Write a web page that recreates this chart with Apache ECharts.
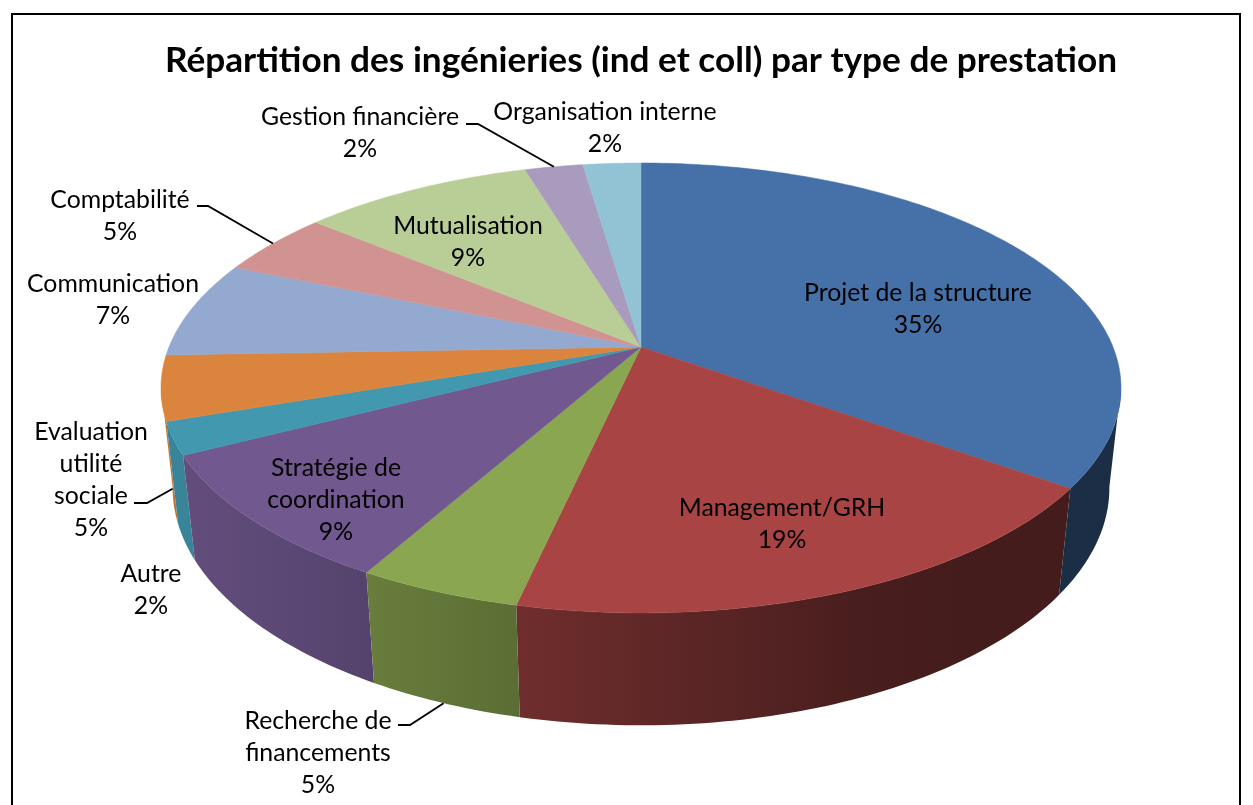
<!DOCTYPE html>
<html>
<head>
<meta charset="utf-8">
<title>Répartition des ingénieries</title>
<script src="https://cdn.jsdelivr.net/npm/echarts@6/dist/echarts.min.js"></script>
<style>
  html, body { margin: 0; padding: 0; background: #fff; }
  #main { width: 1253px; height: 805px; }
</style>
</head>
<body>
<div id="main"></div>
<script>
const categories = [
  "Projet de la structure", "Management/GRH", "Recherche de financements",
  "Stratégie de coordination", "Autre", "Evaluation utilité sociale",
  "Communication", "Comptabilité", "Mutualisation", "Gestion financière",
  "Organisation interne"
];
// counts behind the printed percentages (total 43)
const counts = [15, 8, 2, 4, 1, 2, 3, 2, 4, 1, 1];
const colors = [
  "#4571a8", "#a84544", "#8aa650", "#71588f", "#4198af", "#db843d",
  "#93a9cf", "#d19392", "#b9cd96", "#a99bbd", "#91c3d5"
];
// how each label breaks, where it sits (x centre, y of first line)
const labelLines = [
  ["Projet de la structure"], ["Management/GRH"], ["Recherche de", "financements"],
  ["Stratégie de", "coordination"], ["Autre"], ["Evaluation", "utilité", "sociale"],
  ["Communication"], ["Comptabilité"], ["Mutualisation"], ["Gestion financière"],
  ["Organisation interne"]
];
const labelPos = [
  [918, 293], [782, 508], [318, 721], [336, 468], [151, 574], [91, 432],
  [113, 284], [120, 200], [468, 226], [360, 117], [605, 112]
];
// leader lines: slice index, start points next to the label, rim used at the pie end
const leaders = [
  { i: 2, from: [[398, 725], [410, 725]], rim: "bottom" },
  { i: 5, from: [[134, 503], [147, 503]], rim: "bottom" },
  { i: 7, from: [[197, 206], [208, 206]], rim: "top" },
  { i: 9, from: [[466, 124], [478, 124]], rim: "top" }
];

const total = counts.reduce((a, b) => a + b, 0);

// tilted disc, projected by hand since echarts pie is only round
const cx = 641, cy = 347;
const A = 472, B = 217.5, P = 0.182;
const DEPTH_W = 0.024, DEPTH_Y = 101;
// angles where the side wall meets the outline of the disc
const WALL_FROM = 100, WALL_TO = 260;

function project(deg, bottom) {
  const t = deg * Math.PI / 180;
  const u = Math.sin(t), v = -Math.cos(t);
  const w = 1 - P * v + (bottom ? DEPTH_W : 0);
  return [cx + A * u / w, cy + (B * v + (bottom ? DEPTH_Y : 0)) / w];
}

function arc(a0, a1, bottom) {
  const n = Math.max(2, Math.ceil(Math.abs(a1 - a0)));
  const pts = [];
  for (let k = 0; k <= n; k++) {
    pts.push(project(a0 + (a1 - a0) * k / n, bottom));
  }
  return pts;
}

function sliceAngles(i) {
  let before = 0;
  for (let k = 0; k < i; k++) before += counts[k];
  return [before / total * 360, (before + counts[i]) / total * 360];
}

// side wall gets darker from left to right
function shade(hex, x) {
  const f = Math.min(0.87, Math.max(0.41, 0.66 - (x - 517) * 0.00065));
  const c = echarts.color.parse(hex);
  return "rgb(" + [c[0], c[1], c[2]].map((d) => Math.round(d * f)).join(",") + ")";
}

function wallFill(hex, pts) {
  const xs = pts.map((p) => p[0]);
  const x0 = Math.min(...xs), x1 = Math.max(...xs);
  const stops = [];
  for (let k = 0; k <= 6; k++) {
    stops.push({ offset: k / 6, color: shade(hex, x0 + (x1 - x0) * k / 6) });
  }
  return new echarts.graphic.LinearGradient(x0, 0, x1, 0, stops, true);
}

function renderSlice(params, api) {
  const i = params.dataIndex;
  const [a0, a1] = sliceAngles(i);
  const children = [];

  const w0 = Math.max(a0, WALL_FROM), w1 = Math.min(a1, WALL_TO);
  if (w1 > w0) {
    const wall = arc(w0, w1, false).concat(arc(w0, w1, true).reverse());
    children.push({
      type: "polygon",
      z2: 100 + Math.round(-Math.cos((w0 + w1) / 360 * Math.PI) * 100),
      shape: { points: wall },
      style: { fill: wallFill(colors[i], wall), stroke: null }
    });
  }

  const top = [[cx, cy]].concat(arc(a0, a1, false));
  children.push({
    type: "polygon",
    z2: 1000,
    shape: { points: top },
    style: { fill: colors[i], stroke: colors[i], lineWidth: 0.5 }
  });
  return { type: "group", children: children };
}

const labelGraphics = categories.map((name, i) => ({
  type: "text",
  z: 10,
  style: {
    x: labelPos[i][0],
    y: labelPos[i][1] - 16,
    text: labelLines[i].concat(Math.round(counts[i] / total * 100) + "%").join("\n"),
    align: "center",
    verticalAlign: "top",
    font: "24.8px Lato",
    lineHeight: 32,
    fill: "#000"
  }
}));

const leaderGraphics = leaders.map((l) => {
  const [a0, a1] = sliceAngles(l.i);
  const end = project((a0 + a1) / 2, l.rim === "bottom");
  return {
    type: "polyline",
    z: 10,
    shape: { points: l.from.concat([end]) },
    style: { stroke: "#000", lineWidth: 1.8, fill: null }
  };
});

var myChart = echarts.init(document.getElementById("main"), null, { renderer: "canvas" });

var option = {
  animation: false,
  backgroundColor: "#fff",
  title: {
    text: "Répartition des ingénieries (ind et coll) par type de prestation",
    left: 636,
    top: 38,
    textAlign: "center",
    textStyle: { fontFamily: "Lato", fontSize: 35.2, fontWeight: "bold", color: "#000" }
  },
  graphic: [
    {
      type: "rect",
      z: 0,
      shape: { x: 12, y: 14, width: 1228, height: 900 },
      style: { fill: null, stroke: "#000", lineWidth: 2 }
    }
  ].concat(leaderGraphics, labelGraphics),
  series: [
    {
      type: "custom",
      coordinateSystem: "none",
      silent: true,
      renderItem: renderSlice,
      data: counts
    }
  ]
};

myChart.setOption(option);
window.addEventListener("resize", myChart.resize);
</script>
</body>
</html>
